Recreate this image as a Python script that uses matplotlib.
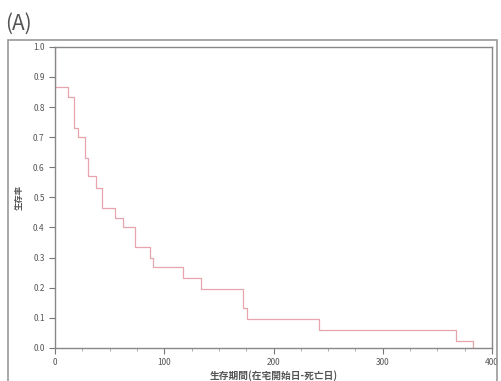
import matplotlib
matplotlib.use("Agg")
import matplotlib.pyplot as plt
from matplotlib.patches import Rectangle
from matplotlib.ticker import MultipleLocator

plt.rcParams['font.family'] = ['Noto Sans CJK JP', 'DejaVu Sans']

# 生存曲線のデータ (日数, 生存率)
days = [0, 0, 12, 17, 21, 27, 30, 37, 43, 55, 62, 73, 87, 90, 117, 134, 172, 176, 242, 367, 383]
survival = [1.0, 0.867, 0.833, 0.73, 0.70, 0.63, 0.57, 0.53, 0.465, 0.43, 0.40, 0.335,
            0.30, 0.267, 0.233, 0.197, 0.133, 0.097, 0.06, 0.023, 0.0]
x_ticks = [0, 100, 200, 300, 400]
y_ticks = [0.0, 0.1, 0.2, 0.3, 0.4, 0.5, 0.6, 0.7, 0.8, 0.9, 1.0]

fig = plt.figure(figsize=(5.01, 3.81), dpi=100)
ax = fig.add_axes([0.11, 0.087, 0.872, 0.79])

ax.step(days, survival, where='post', color='#e8a4ac', lw=0.9)

ax.set_xlim(0, 400)
ax.set_ylim(0, 1.0)
ax.set_xticks(x_ticks)
ax.set_yticks(y_ticks)
ax.set_yticklabels([f'{v:.1f}' for v in y_ticks])
ax.xaxis.set_minor_locator(MultipleLocator(25))
ax.tick_params(axis='both', which='major', labelsize=6, colors='#777777',
               labelcolor='#555555', length=4, width=0.8, direction='out')
ax.tick_params(axis='x', which='minor', length=2, width=0.6, colors='#999999')
for s in ax.spines.values():
    s.set_color('#888888')
    s.set_linewidth(1.0)

ax.set_ylabel('生存率', fontsize=6, color='#555555', fontweight='bold', labelpad=7)
ax.set_xlabel('生存期間(在宅開始日-死亡日)', fontsize=7, color='#555555',
              fontweight='bold', labelpad=2)

# 外枠
fig.patches.append(Rectangle((8 / 501, -0.02), 489 / 501, 1 - 40 / 381 + 0.02,
                             transform=fig.transFigure, fill=False,
                             edgecolor='#999999', lw=1.2))
fig.text(5 / 501, 1 - 24 / 381, '(A)', fontsize=15, color='#555555',
         ha='left', va='center')

fig.savefig('out.png', dpi=100)
